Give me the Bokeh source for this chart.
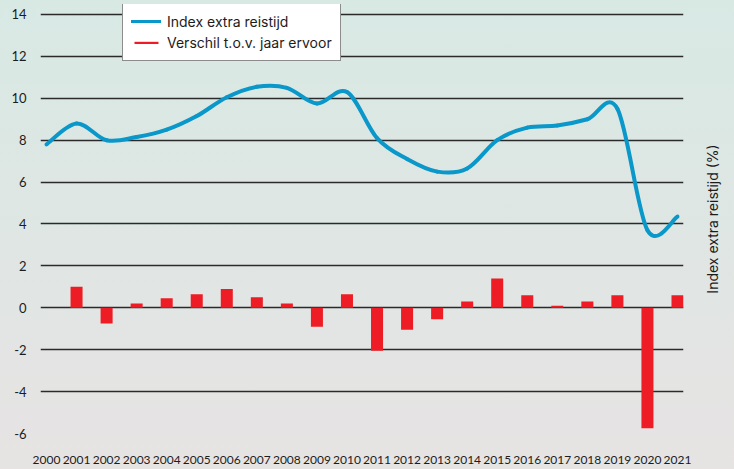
import numpy as np
from bokeh.plotting import figure
from bokeh.layouts import row
from bokeh.models import FixedTicker, ColumnDataSource, Range1d
from bokeh.embed import file_html
from bokeh.resources import INLINE

# ---- data ----
years = list(range(2000, 2022))
index_extra = [7.8, 8.8, 8.0, 8.15, 8.5, 9.15, 10.05, 10.55, 10.5, 9.75, 10.3,
               8.1, 7.1, 6.5, 6.65, 8.0, 8.6, 8.7, 9.0, 9.5, 3.7, 4.35]
diff_years = list(range(2001, 2022))
diff_prev = [1.0, -0.75, 0.2, 0.45, 0.65, 0.9, 0.5, 0.2, -0.9, 0.65, -2.05,
             -1.05, -0.55, 0.3, 1.4, 0.6, 0.1, 0.3, 0.6, -5.75, 0.6]
y_ticks = [-6, -4, -2, 0, 2, 4, 6, 8, 10, 12, 14]
y_tick_labels = ["-6", "-4", "-2", "0", "2", "4", "6", "8", "10", "12", "14"]
x_tick_labels = [str(y) for y in years]
series_line = "Index extra reistijd"
series_bar = "Verschil t.o.v. jaar ervoor"
axis_title = "Index extra reistijd (%)"

FONT = "Lato"
FONT2 = "Inter"
TXT = "#1c1c1c"
BLUE = "#0a97c9"
RED = "#ee1d25"

p = figure(width=700, height=469, output_backend="svg", toolbar_location=None,
           x_range=Range1d(1999.8, 2021.2), y_range=Range1d(-6, 14.477),
           min_border_left=40, min_border_right=17, min_border_top=4,
           min_border_bottom=36)
p.background_fill_color = None
p.border_fill_color = None
p.outline_line_color = None

# grid
p.xgrid.grid_line_color = None
p.ygrid.ticker = FixedTicker(ticks=y_ticks)
p.ygrid.grid_line_color = "#2a2a2a"
p.ygrid.grid_line_width = 1.3

# left axis
ya = p.yaxis[0]
ya.ticker = FixedTicker(ticks=y_ticks)
ya.major_label_overrides = {t: l for t, l in zip(y_ticks, y_tick_labels)}
ya.axis_line_color = None
ya.major_tick_line_color = None
ya.minor_tick_line_color = None
ya.major_label_standoff = 8
ya.major_label_text_font = FONT
ya.major_label_text_font_size = "13px"
ya.major_label_text_color = TXT

# bottom axis
xa = p.xaxis[0]
xa.ticker = FixedTicker(ticks=years)
xa.major_label_overrides = {y: l for y, l in zip(years, x_tick_labels)}
xa.axis_line_color = None
xa.major_tick_line_color = None
xa.minor_tick_line_color = None
xa.major_label_standoff = 16
xa.major_label_text_font = FONT
xa.major_label_text_font_size = "12px"
xa.major_label_text_color = TXT

# bars
bar_src = ColumnDataSource(dict(x=diff_years, top=diff_prev))
p.vbar(x="x", top="top", bottom=0, width=0.4, source=bar_src,
       fill_color=RED, line_color=None, legend_label=series_bar)

# smooth line (Catmull-Rom -> cubic bezier segments through the data points)
x = np.array(years, dtype=float)
y = np.array(index_extra, dtype=float)
xp = np.concatenate([[x[0]], x, [x[-1]]])
yp = np.concatenate([[y[0]], y, [y[-1]]])
x0, x1 = x[:-1], x[1:]
y0, y1 = y[:-1], y[1:]
cx0 = x0 + (x1 - xp[:-3]) / 6.0
cy0 = y0 + (y1 - yp[:-3]) / 6.0
cx1 = x1 - (xp[3:] - x0) / 6.0
cy1 = y1 - (yp[3:] - y0) / 6.0
line_src = ColumnDataSource(dict(x0=x0, y0=y0, x1=x1, y1=y1,
                                 cx0=cx0, cy0=cy0, cx1=cx1, cy1=cy1))
p.bezier(x0="x0", y0="y0", x1="x1", y1="y1", cx0="cx0", cy0="cy0",
         cx1="cx1", cy1="cy1", source=line_src, line_color=BLUE,
         line_width=4, line_cap="round", legend_label=series_line)

# legend
lg = p.legend[0]
lg.items = list(reversed(lg.items))
lg.location = (82, 372)
lg.orientation = "vertical"
lg.border_line_color = "#1a1a1a"
lg.border_line_width = 1.5
lg.background_fill_color = "white"
lg.background_fill_alpha = 1.0
lg.label_text_font = FONT2
lg.label_text_font_size = "14px"
lg.label_text_color = TXT
lg.glyph_width = 30
lg.glyph_height = 3
lg.label_height = 20
lg.label_standoff = 6
lg.spacing = 1
lg.padding = 8
lg.margin = 0

# narrow side figure carrying the right-hand axis title (reads bottom-to-top)
p2 = figure(width=34, height=469, output_backend="svg", toolbar_location=None,
            x_range=Range1d(0, 1), y_range=Range1d(0, 1),
            min_border_left=20, min_border_right=0, min_border_top=4,
            min_border_bottom=36)
p2.background_fill_color = None
p2.border_fill_color = None
p2.outline_line_color = None
p2.grid.grid_line_color = None
p2.xaxis.visible = False
sa = p2.yaxis[0]
sa.ticker = FixedTicker(ticks=[])
sa.axis_label = axis_title
sa.axis_line_color = None
sa.major_tick_line_color = None
sa.minor_tick_line_color = None
sa.axis_label_standoff = 2
sa.axis_label_text_font = FONT2
sa.axis_label_text_font_size = "14px"
sa.axis_label_text_font_style = "normal"
sa.axis_label_text_color = TXT

layout = row(p, p2, spacing=0)

html = file_html(layout, INLINE, title="chart")
style = ("<style>html{height:100%;min-height:100%;"
         "background:linear-gradient(to bottom,#d8e9e4 0%,#dfe6e3 50%,#e7e3e3 100%);}"
         "body{background:transparent;}</style>")
html = html.replace("</head>", style + "</head>", 1)
open("out.html", "w").write(html)
